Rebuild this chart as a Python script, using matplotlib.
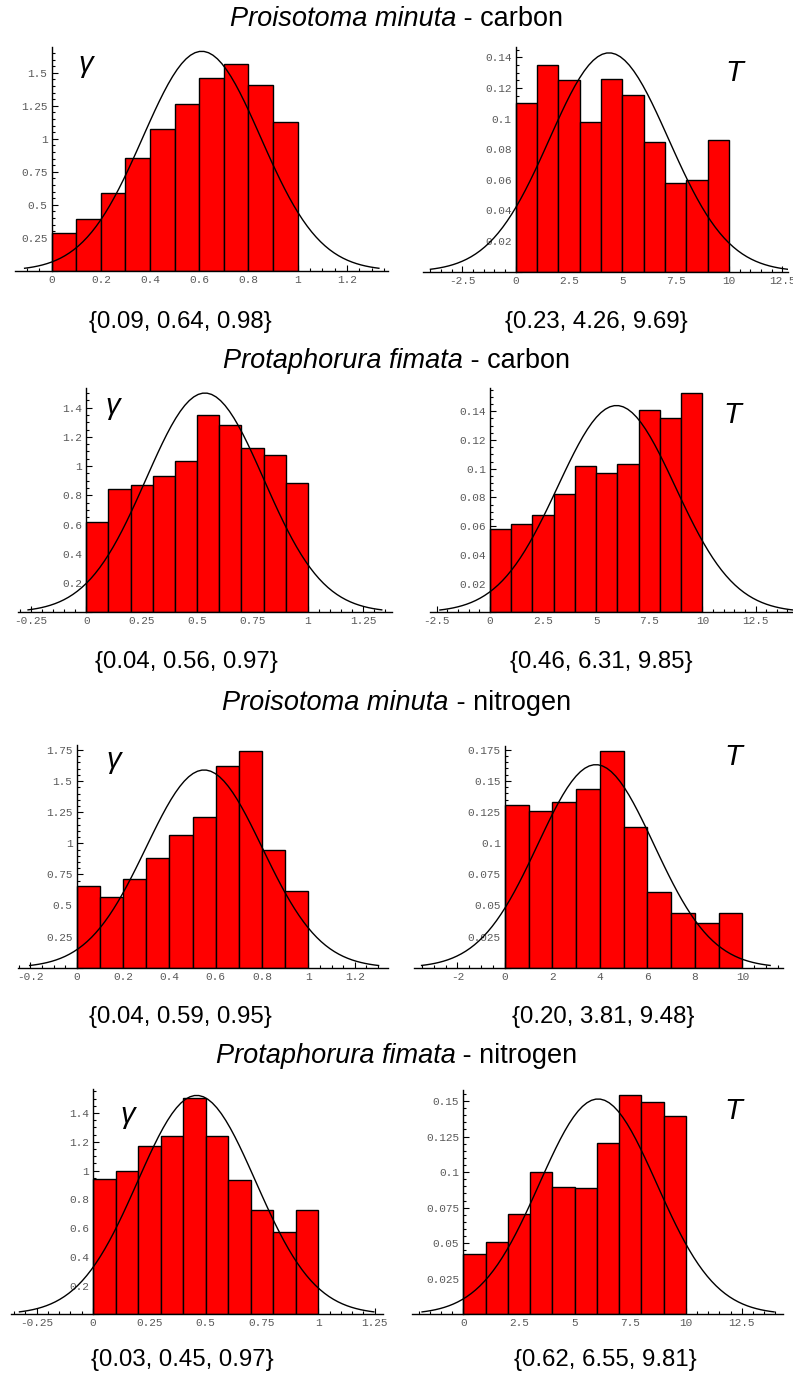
import numpy as np
import matplotlib
matplotlib.use("Agg")
import matplotlib.pyplot as plt
from matplotlib.ticker import MultipleLocator, AutoMinorLocator, FuncFormatter

# ---------------- data ----------------
titles_species = ["Proisotoma minuta", "Protaphorura fimata",
                  "Proisotoma minuta", "Protaphorura fimata"]
titles_element = ["carbon", "carbon", "nitrogen", "nitrogen"]

gamma_edges = [0.0, 0.1, 0.2, 0.3, 0.4, 0.5, 0.6, 0.7, 0.8, 0.9, 1.0]
T_edges = [0, 1, 2, 3, 4, 5, 6, 7, 8, 9, 10]

gamma_pm_c = [0.284, 0.395, 0.585, 0.856, 1.074, 1.262, 1.462, 1.568, 1.406, 1.128]
T_pm_c = [0.110, 0.135, 0.125, 0.0975, 0.126, 0.1154, 0.0849, 0.0581, 0.0597, 0.086]
gamma_pf_c = [0.616, 0.841, 0.869, 0.935, 1.035, 1.347, 1.281, 1.122, 1.074, 0.887]
T_pf_c = [0.0578, 0.0615, 0.0676, 0.0827, 0.1017, 0.0971, 0.1036, 0.1409, 0.1351, 0.1525]
gamma_pm_n = [0.657, 0.571, 0.713, 0.879, 1.067, 1.211, 1.619, 1.742, 0.943, 0.614]
T_pm_n = [0.1308, 0.1262, 0.1329, 0.1431, 0.174, 0.1126, 0.0606, 0.044, 0.0362, 0.044]
gamma_pf_n = [0.943, 0.999, 1.173, 1.238, 1.507, 1.238, 0.932, 0.723, 0.570, 0.723]
T_pf_n = [0.0424, 0.0509, 0.0705, 0.1001, 0.0898, 0.0886, 0.1202, 0.1542, 0.1495, 0.1397]

# fitted normal curves (mean, sd)
fit_mean = [0.61, 4.375, 0.535, 5.956, 0.55, 3.83, 0.46, 6.05]
fit_sd = [0.240, 2.79, 0.266, 2.77, 0.251, 2.447, 0.262, 2.635]

# quantile summaries shown below each panel
summaries = ["{0.09, 0.64, 0.98}", "{0.23, 4.26, 9.69}",
             "{0.04, 0.56, 0.97}", "{0.46, 6.31, 9.85}",
             "{0.04, 0.59, 0.95}", "{0.20, 3.81, 9.48}",
             "{0.03, 0.45, 0.97}", "{0.62, 6.55, 9.81}"]

panel_heights = [gamma_pm_c, T_pm_c, gamma_pf_c, T_pf_c,
                 gamma_pm_n, T_pm_n, gamma_pf_n, T_pf_n]
panel_edges = [gamma_edges, T_edges] * 4
panel_symbol = ["γ", "T"] * 4

# ---------------- layout (pixels) ----------------
W, H = 793, 1376
# x0, x1, y_bottom, y_top (pixels), xmin, xmax, ymax
geom = [
    (15.0, 388.0, 270.7, 46.7, -0.149, 1.367, 1.697),
    (423.3, 788.3, 271.7, 46.7, -4.33, 12.78, 0.147),
    (18.3, 391.7, 612.3, 388.3, -0.307, 1.378, 1.532),
    (430.0, 793.0, 612.3, 388.3, -2.82, 14.26, 0.156),
    (18.3, 388.3, 967.7, 745.0, -0.252, 1.345, 1.79),
    (414.0, 782.7, 967.7, 746.0, -3.83, 11.70, 0.178),
    (10.7, 383.3, 1314.3, 1089.3, -0.365, 1.288, 1.565),
    (411.7, 783.3, 1314.3, 1090.0, -2.32, 14.37, 0.1577),
]
xmajor = [0.2, 2.5, 0.25, 2.5, 0.2, 2.0, 0.25, 2.5]
xminor = [4, 5, 5, 5, 4, 4, 5, 5]
ymajor = [0.25, 0.02, 0.2, 0.02, 0.25, 0.025, 0.2, 0.025]
yminor = [5, 4, 4, 4, 5, 5, 4, 5]
sym_pos = [(86, 64), (734, 73), (113, 406), (732, 415),
           (114, 760), (733, 757), (128, 1115), (733, 1111)]
sum_pos = [(180, 322), (596, 322), (186, 662), (601, 662),
           (180, 1017), (603, 1017), (182, 1360), (605, 1360)]
title_baseline = [26, 368, 710, 1063]

tick_font = dict(family="Liberation Mono", size=8)
tick_color = "#5a5a5a"


def fmt(v, _):
    if abs(v) < 1e-12:
        return "0"
    s = f"{v:.3f}".rstrip("0").rstrip(".")
    return s


def fmt_y(v, _):
    if abs(v) < 1e-12:
        return ""
    return fmt(v, _)


fig = plt.figure(figsize=(W / 100, H / 100), dpi=100)

for i in range(8):
    x0, x1, yb, yt, xmin, xmax, ymax = geom[i]
    ax = fig.add_axes([x0 / W, 1 - yb / H, (x1 - x0) / W, (yb - yt) / H])
    ax.patch.set_alpha(0)
    edges = np.array(panel_edges[i], dtype=float)
    heights = panel_heights[i]
    ax.bar(edges[:-1], heights, width=np.diff(edges), align="edge",
           color="#ff0000", edgecolor="black", linewidth=1.0, zorder=2)
    mu, sd = fit_mean[i], fit_sd[i]
    xs = np.linspace(mu - 3 * sd, mu + 3 * sd, 80)
    ys = np.exp(-0.5 * ((xs - mu) / sd) ** 2) / (sd * np.sqrt(2 * np.pi))
    ax.plot(xs, ys, color="black", lw=1.0, zorder=3)
    ax.set_xlim(xmin, xmax)
    ax.set_ylim(0, ymax)
    for s in ("top", "right"):
        ax.spines[s].set_visible(False)
    ax.spines["left"].set_position(("data", 0))
    ax.spines["left"].set_linewidth(1.0)
    ax.spines["bottom"].set_linewidth(1.0)
    ax.spines["left"].set_zorder(4)
    ax.xaxis.set_major_locator(MultipleLocator(xmajor[i]))
    ax.xaxis.set_minor_locator(AutoMinorLocator(xminor[i]))
    ax.yaxis.set_major_locator(MultipleLocator(ymajor[i]))
    ax.yaxis.set_minor_locator(AutoMinorLocator(yminor[i]))
    ax.xaxis.set_major_formatter(FuncFormatter(fmt))
    ax.yaxis.set_major_formatter(FuncFormatter(fmt_y))
    ax.tick_params(which="both", direction="in", width=0.8, color="black",
                   labelcolor=tick_color, pad=3)
    ax.tick_params(which="major", length=4)
    ax.tick_params(which="minor", length=2)
    ax.set_axisbelow(True)
    for lab in ax.get_xticklabels() + ax.get_yticklabels():
        lab.set_fontfamily(tick_font["family"])
        lab.set_fontsize(tick_font["size"])

    sx, sy = sym_pos[i]
    fig.text(sx / W, 1 - sy / H, panel_symbol[i], fontsize=21, style="italic",
             family="Liberation Sans", ha="center", va="center")
    tx, ty = sum_pos[i]
    fig.text(tx / W, 1 - ty / H, summaries[i], fontsize=17.3,
             family="Liberation Sans", ha="center", va="center")

for r in range(4):
    y = 1 - title_baseline[r] / H
    t1 = fig.text(0, y, titles_species[r], fontsize=19.5, style="italic",
                  family="Liberation Sans", va="baseline")
    t2 = fig.text(0, y, " - " + titles_element[r], fontsize=19.5,
                  family="Liberation Sans", va="baseline")
    fig.canvas.draw()
    r1 = fig.canvas.get_renderer()
    w1 = t1.get_window_extent(r1).width
    w2 = t2.get_window_extent(r1).width
    start = (W / 2 - (w1 + w2) / 2)
    t1.set_x(start / W)
    t2.set_x((start + w1) / W)

fig.savefig("out.png", dpi=100)
